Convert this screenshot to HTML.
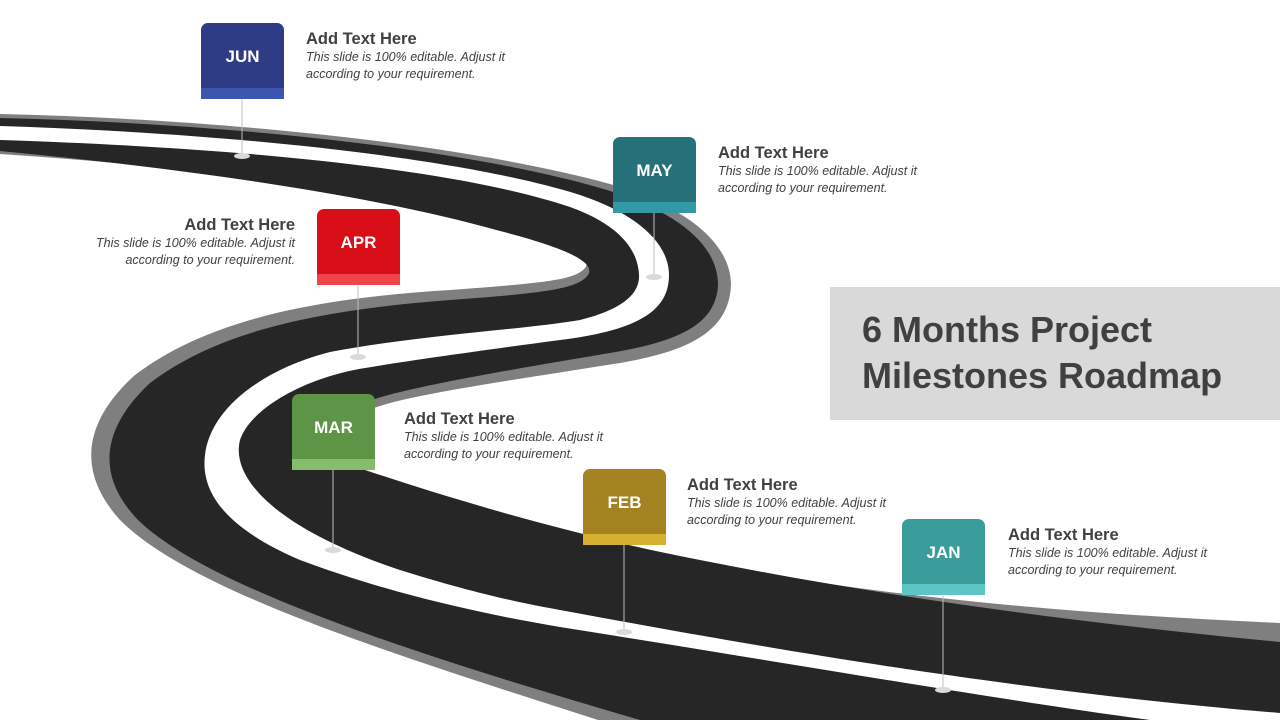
<!DOCTYPE html>
<html><head><meta charset="utf-8"><style>
*{margin:0;padding:0;box-sizing:border-box}
body{width:1280px;height:720px;overflow:hidden;background:#fff;position:relative;font-family:"Liberation Sans",sans-serif;color:#404040}
svg{position:absolute;left:0;top:0}
.box{position:absolute;width:83px;height:76px;border-radius:7px 7px 0 0;color:#fff;font-weight:bold;font-size:17px;text-align:center;line-height:68px;overflow:hidden}
.box i{position:absolute;left:0;bottom:0;width:100%;height:11px}
.t{position:absolute;width:240px}
.t h3{font-size:16.5px;font-weight:bold;line-height:20px;color:#404040}
.t p{font-size:12.5px;font-style:italic;line-height:17px;color:#404040}
.r{text-align:right}
.title{position:absolute;left:830px;top:287px;width:450px;height:133px;background:#d9d9d9}
.title div{position:absolute;left:32px;top:20px;font-size:36px;font-weight:bold;line-height:46px;color:#404040;white-space:nowrap}
</style></head><body>
<svg width="1280" height="720" viewBox="0 0 1280 720">
<path fill="#7f7f7f" d="M0,114 C250,120 480,148 610,184 C690,208 731,245 731,285 C729,331 690,351 620,363 C520,379 420,393 380,406 C320,425 305,458 354,474 C430,502 560,535 700,563 C900,600 1100,615 1280,623 L1280,720 L598,720 C380,650 190,590 120,520 C75,470 85,420 135,375 C210,318 320,298 450,290 C545,283 575,280 585,268 C595,254 560,242 500,226 C380,192 200,167 0,154 Z"/>
<path fill="#262626" d="M0,118 C250,124 480,152 607,190 C680,213 718,246 718,285 C716,322 684,340 616,352 C520,368 420,385 378,398 C310,420 300,455 350,465 C430,492 560,533 700,560 C900,600 1100,625 1280,642 L1280,720 L640,720 C400,650 205,585 138,520 C95,475 102,428 150,383 C220,330 320,310 450,300 C545,293 578,289 588,275 C596,262 566,248 500,231 C380,197 200,170 0,151 Z"/>
<path fill="#fff" d="M0,126 C250,134 470,160 580,195 C640,215 669,245 669,275 C669,310 640,330 560,340 C470,352 400,362 359,369 C300,380 250,410 240,440 C230,480 280,530 400,570 C470,592 520,603 560,610 C750,645 1000,690 1280,713 L1280,720 L1150,720 C1000,700 800,665 560,627 C470,612 380,590 300,560 C230,530 200,495 205,455 C210,410 260,370 330,352 C420,335 520,330 580,320 C620,310 640,295 639,275 C638,250 620,225 570,207 C460,170 250,148 0,140 Z"/>
<g stroke="#bfbfbf" stroke-width="1">
<line x1="242" y1="99" x2="242" y2="156"/>
<line x1="654" y1="213" x2="654" y2="277"/>
<line x1="358" y1="286" x2="358" y2="357"/>
<line x1="333" y1="470" x2="333" y2="550"/>
<line x1="624" y1="545" x2="624" y2="632"/>
<line x1="943" y1="596" x2="943" y2="690"/>
</g>
<g fill="#d9d9d9">
<ellipse cx="242" cy="156" rx="8" ry="3"/>
<ellipse cx="654" cy="277" rx="8" ry="3"/>
<ellipse cx="358" cy="357" rx="8" ry="3"/>
<ellipse cx="333" cy="550" rx="8" ry="3"/>
<ellipse cx="624" cy="632" rx="8" ry="3"/>
<ellipse cx="943" cy="690" rx="8" ry="3"/>
</g>
</svg>

<div class="box" style="left:201px;top:23px;background:#2e3c85">JUN<i style="background:#3b55b0"></i></div>
<div class="box" style="left:613px;top:137px;background:#26707a">MAY<i style="background:#3399a6"></i></div>
<div class="box" style="left:317px;top:209px;background:#d90f17">APR<i style="background:#f0434a"></i></div>
<div class="box" style="left:292px;top:394px;background:#5e9445">MAR<i style="background:#86bd6a"></i></div>
<div class="box" style="left:583px;top:469px;background:#a3821f">FEB<i style="background:#d6b02e"></i></div>
<div class="box" style="left:902px;top:519px;background:#3a9c9b">JAN<i style="background:#5cc6c6"></i></div>

<div class="t" style="left:306px;top:29px"><h3>Add Text Here</h3><p>This slide is 100% editable. Adjust it<br>according to your requirement.</p></div>
<div class="t" style="left:718px;top:143px"><h3>Add Text Here</h3><p>This slide is 100% editable. Adjust it<br>according to your requirement.</p></div>
<div class="t r" style="left:55px;top:215px"><h3>Add Text Here</h3><p>This slide is 100% editable. Adjust it<br>according to your requirement.</p></div>
<div class="t" style="left:404px;top:409px"><h3>Add Text Here</h3><p>This slide is 100% editable. Adjust it<br>according to your requirement.</p></div>
<div class="t" style="left:687px;top:475px"><h3>Add Text Here</h3><p>This slide is 100% editable. Adjust it<br>according to your requirement.</p></div>
<div class="t" style="left:1008px;top:525px"><h3>Add Text Here</h3><p>This slide is 100% editable. Adjust it<br>according to your requirement.</p></div>

<div class="title"><div>6 Months Project<br>Milestones Roadmap</div></div>
</body></html>
